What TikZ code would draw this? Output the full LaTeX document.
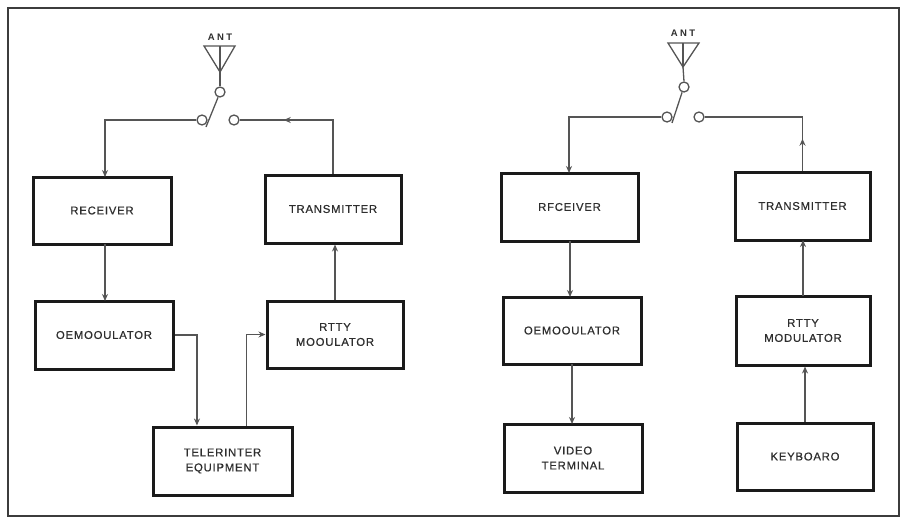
\documentclass[tikz,border=0pt]{standalone}
\usepackage{fontspec}
\setmainfont{Liberation Sans}
\newfontfamily\lblfont[LetterSpace=7,FakeBold=0.6]{Liberation Sans}
\newfontfamily\antfont[LetterSpace=25]{Liberation Sans Bold}
\usetikzlibrary{arrows.meta,decorations.markings,calc}
\definecolor{wire}{HTML}{555555}
\definecolor{boxc}{HTML}{1A1A1A}
\definecolor{txt}{HTML}{2E2E2E}
\begin{document}
\begin{tikzpicture}[x=1pt,y=-1pt,
  blk/.style={draw=boxc,line width=3pt,fill=white,inner sep=0pt,align=center,
    text=txt,font=\lblfont\fontsize{11.3}{15}\selectfont},
  wirestyle/.style={draw=wire,line width=1.3pt},
  arr/.style={wirestyle,-{Stealth[length=7pt,width=6pt]}},
  midarr/.style={wirestyle,postaction={decorate},decoration={markings,
    mark=at position #1 with {\arrow{Stealth[length=7pt,width=6pt]}}}},
  contact/.style={circle,draw=wire,line width=1.3pt,fill=white,minimum size=10pt,inner sep=0pt},
  antlbl/.style={text=txt,font=\antfont\fontsize{9.5}{11}\selectfont,inner sep=0pt},
  antenna/.style={draw=wire,line width=1.3pt,line join=miter}
]
\useasboundingbox (0,0) rectangle (904,522);
% frame
\draw[draw=boxc!85,line width=2.4pt] (8,8) rectangle (899,516);

% ================= LEFT STATION =================
\node[blk,minimum width=138pt,minimum height=67pt] (lrec) at (102,210.5) {RECEIVER};
\node[blk,minimum width=136pt,minimum height=68pt] (ltx) at (333,209) {TRANSMITTER};
\node[blk,minimum width=138pt,minimum height=68pt] (ldem) at (104,335) {OEMOOULATOR};
\node[blk,minimum width=136pt,minimum height=67pt] (lrtty) at (335,334.5) {RTTY\\MOOULATOR};
\node[blk,minimum width=139pt,minimum height=68pt] (ltel) at (222.5,461) {TELERINTER\\EQUIPMENT};

% antenna and switch
\node[antlbl] (lant) at (220,37) {ANT};
\coordinate (lapex) at (220,72);
\draw[antenna] (204,46) -- (235,46) -- (lapex) -- cycle;
\draw[antenna] (220,46) -- (lapex);
\node[contact] (lsu) at (220,92) {};
\node[contact] (lsl) at (202,120) {};
\node[contact] (lsr) at (234,120) {};
\coordinate (lbe) at (206,127);
\draw[wirestyle] (lapex) -- (lsu.north);
\draw[wirestyle] (lsu.250) -- (lbe);

% connectors
\draw[arr] (lsl.west) -| (105,177);
\draw[midarr=0.70] (ltx.north) |- (lsr.east);
\draw[arr] (105,244) -- (105,301);
\draw[arr] (ldem.east) -| ($(ltel.north west)!0.32!(ltel.north east)$);
\draw[arr] ($(ltel.north west)!0.67!(ltel.north east)$) |- (lrtty.west);
\draw[arr] (lrtty.north) -- (ltx.south -| lrtty.north);

% ================= RIGHT STATION =================
\node[blk,minimum width=137pt,minimum height=68pt] (rrec) at (569.5,207) {RFCEIVER};
\node[blk,minimum width=135pt,minimum height=68pt] (rtx) at (802.5,206) {TRANSMITTER};
\node[blk,minimum width=138pt,minimum height=67pt] (rdem) at (572,330.5) {OEMOOULATOR};
\node[blk,minimum width=134pt,minimum height=69pt] (rrtty) at (803,330.5) {RTTY\\MODULATOR};
\node[blk,minimum width=138pt,minimum height=68pt] (rvid) at (573,458) {VIDEO\\TERMINAL};
\node[blk,minimum width=136pt,minimum height=67pt] (rkey) at (805,456.5) {KEYBOARO};

% antenna and switch
\node[antlbl] (rant) at (683,33) {ANT};
\coordinate (rapex) at (683,67);
\draw[antenna] (668,43) -- (699,43) -- (rapex) -- cycle;
\draw[antenna] (683,43) -- (rapex);
\node[contact] (rsu) at (684,87) {};
\node[contact] (rsl) at (667,117) {};
\node[contact] (rsr) at (699,117) {};
\coordinate (rbe) at (672,123);
\draw[wirestyle] (rapex) -- (rsu.north);
\draw[wirestyle] (rsu.250) -- (rbe);

% connectors
\draw[arr] (rsl.west) -| (569,173);
\draw[midarr=0.21] (rtx.north) |- (rsr.east);
\draw[arr] (570,241) -- (570,297);
\draw[arr] (572,364) -- (572,424);
\draw[arr] (rkey.north) -- (rrtty.south -| rkey.north);
\draw[arr] (803,296) -- (803,240);
\end{tikzpicture}
\end{document}
